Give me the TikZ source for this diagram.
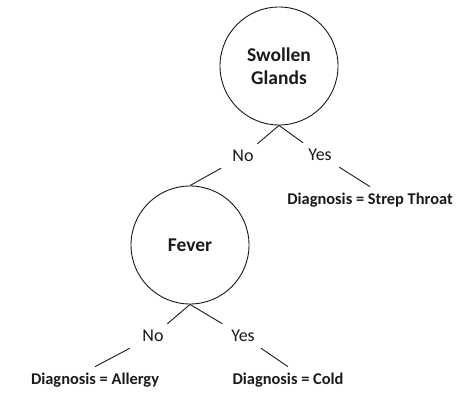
\documentclass[tikz,border=0pt]{standalone}
\usepackage{fontspec}
\setmainfont{Carlito}
\usetikzlibrary{positioning}
\definecolor{TreeInk}{HTML}{1A1A1A}

\begin{document}
\begin{tikzpicture}[x=1pt,y=-1pt,
		test/.style={circle,draw=TreeInk,line width=0.9pt,minimum size=118pt,inner sep=0pt,align=center,text=TreeInk,font=\fontsize{19.5}{23.5}\selectfont\bfseries},
		answer/.style={minimum height=24pt,minimum width=70pt,inner sep=0pt,text=TreeInk,font=\fontsize{18}{20}\selectfont},
		leaf/.style={inner sep=6pt,text=TreeInk,font=\fontsize{16.4}{18}\selectfont\bfseries},
		branch/.style={draw=TreeInk,line width=0.9pt}]
		\useasboundingbox (0,0) rectangle (470,406);
		\node[test] (glands) at (279,66) {Swollen\\Glands};
		\node[answer] (glandsNo) at (243,156) {No};
		\node[answer] (glandsYes) at (320,155) {Yes};
		\node[leaf] (strep) at (370,200) {Diagnosis = Strep Throat};
		\node[test] (fever) at (190,245) {Fever};
		\node[answer] (feverNo) at (153,336) {No};
		\node[answer] (feverYes) at (243,336) {Yes};
		\node[leaf] (allergy) at (95,380) {Diagnosis = Allergy};
		\node[leaf] (cold) at (288,380) {Diagnosis = Cold};
		\draw[branch] (glands.south) -- (glandsNo);
		\draw[branch] (glands.south) -- (glandsYes);
		\draw[branch] (glandsNo) -- (fever.north);
		\draw[branch] (glandsYes) -- (strep.north);
		\draw[branch] (fever.south) -- (feverNo);
		\draw[branch] (fever.south) -- (feverYes);
		\draw[branch] (feverNo) -- (allergy.north);
		\draw[branch] (feverYes) -- (cold.north);
	\end{tikzpicture}
\end{document}
